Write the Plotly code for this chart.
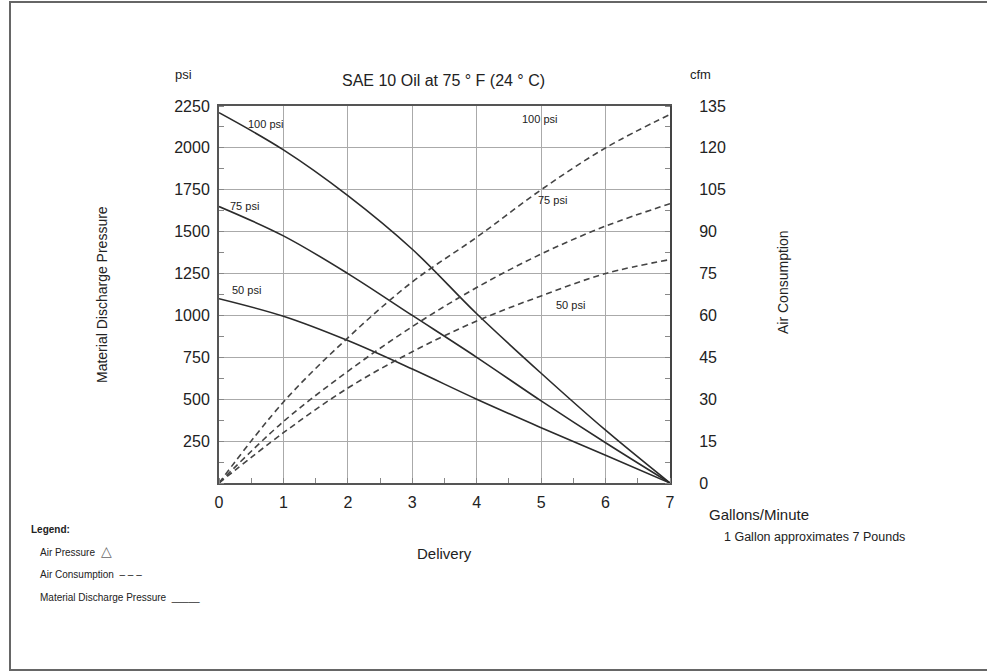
import plotly.graph_objects as go

# Delivery (gallons/minute)
gpm = [0, 1, 2, 3, 4, 5, 6, 7]

# Material discharge pressure (psi) at different air pressures
mdp_100 = [2210, 1988, 1715, 1395, 1010, 655, 315, 0]
mdp_75 = [1650, 1475, 1250, 1000, 750, 490, 240, 0]
mdp_50 = [1100, 995, 850, 680, 500, 330, 165, 0]

# Air consumption (cfm)
cfm_100 = [0, 29, 52, 72, 88, 105, 120, 132]
cfm_75 = [0, 22, 40, 56, 70, 82, 92, 100]
cfm_50 = [0, 18, 34, 47, 58, 67, 75, 80]

x_ticks = [0, 1, 2, 3, 4, 5, 6, 7]
psi_ticks = [250, 500, 750, 1000, 1250, 1500, 1750, 2000, 2250]
cfm_ticks = [0, 15, 30, 45, 60, 75, 90, 105, 120, 135]

FONT = "Liberation Sans, Arial, sans-serif"
LC = "#2b2b2b"

fig = go.Figure()
for ys in (mdp_100, mdp_75, mdp_50):
    fig.add_trace(go.Scatter(x=gpm, y=ys, mode="lines",
                             line=dict(color=LC, width=1.6, shape="spline", smoothing=1.0),
                             yaxis="y", showlegend=False, hoverinfo="skip"))
for ys in (cfm_100, cfm_75, cfm_50):
    fig.add_trace(go.Scatter(x=gpm, y=ys, mode="lines",
                             line=dict(color="#444", width=1.6, dash="6px,4px", shape="spline", smoothing=1.0),
                             yaxis="y2", showlegend=False, hoverinfo="skip"))

FW, FH = 987, 671
L, R, T, B = 219, 670, 106, 483  # plot area in window pixels
W, H = R - L, B - T
def px(x): return (x - L) / W
def py(y): return (B - y) / H

ann = []
def text(x, y, s, size, xa="center", ya="middle", angle=0, color="#222", bold=False):
    if bold:
        s = "<b>" + s + "</b>"
    ann.append(dict(x=px(x), y=py(y), xref="paper", yref="paper", text=s, showarrow=False,
                    xanchor=xa, yanchor=ya, textangle=angle, font=dict(family=FONT, size=size, color=color)))

text(443, 80, "SAE 10 Oil at 75 ° F (24 ° C)", 16)
text(183, 75, "psi", 13)
text(700, 75, "cfm", 13)
text(102, 295, "Material Discharge Pressure", 14, angle=-90)
text(783, 282, "Air Consumption", 14, angle=-90)
text(444, 553, "Delivery", 15)
text(707, 514, "Gallons/Minute", 15, xa="left")
text(722, 537, "1 Gallon approximates 7 Pounds", 12.5, xa="left")
text(29, 529, "Legend:", 10, xa="left", bold=True)
text(38, 551, "Air Pressure  <span style='font-size:14px;color:#666'>△</span>", 10, xa="left")
text(38, 574, "Air Consumption  – – –", 10, xa="left")
text(38, 597, "Material Discharge Pressure  _____", 10, xa="left")

# curve labels (in data coordinates)
for (xd, yd, s) in [(0.72, 2140, "100 psi"), (0.40, 1655, "75 psi"), (0.43, 1150, "50 psi"),
                    (4.98, 2170, "100 psi"), (5.18, 1690, "75 psi"), (5.45, 1062, "50 psi")]:
    ann.append(dict(x=xd, y=yd, xref="x", yref="y", text=s, showarrow=False,
                    font=dict(family=FONT, size=11, color="#222")))

shapes = [dict(type="rect", xref="paper", yref="paper", x0=px(10), x1=px(992), y0=py(670), y1=py(2),
               line=dict(color="#666", width=2), fillcolor="rgba(0,0,0,0)", layer="below")]

fig.update_layout(
    width=FW, height=FH,
    margin=dict(l=L, r=FW - R, t=T, b=FH - B),
    paper_bgcolor="white", plot_bgcolor="white",
    font=dict(family=FONT, size=16, color="#222"),
    showlegend=False,
    annotations=ann, shapes=shapes,
    xaxis=dict(range=[0, 7], tickvals=x_ticks, showgrid=True, gridcolor="#aaa", gridwidth=1,
               showline=True, linecolor="#555", linewidth=2, mirror=True, zeroline=False,
               ticks="", ticklabelstandoff=4,
               minor=dict(ticks="inside", dtick=0.5, tick0=0, ticklen=5, tickcolor="#888", showgrid=False),
               tickfont=dict(size=16)),
    yaxis=dict(range=[0, 2250], tickvals=psi_ticks, showgrid=True, gridcolor="#aaa", gridwidth=1,
               showline=True, linecolor="#555", linewidth=2, zeroline=False, ticks="",
               minor=dict(ticks="inside", dtick=125, tick0=0, ticklen=5, tickcolor="#888", showgrid=False),
               tickfont=dict(size=16), ticklabelstandoff=4),
    yaxis2=dict(range=[0, 135], tickvals=cfm_ticks, overlaying="y", side="right", showgrid=False,
                showline=True, linecolor="#444", linewidth=2, zeroline=False, ticks="",
                minor=dict(ticks="inside", dtick=7.5, tick0=0, ticklen=5, tickcolor="#888"),
                tickfont=dict(size=16), ticklabelstandoff=24),
)

fig.write_html("out.html", config={"displayModeBar": False, "staticPlot": True},
               post_script="document.body.style.margin='0';document.body.style.overflow='hidden';")
